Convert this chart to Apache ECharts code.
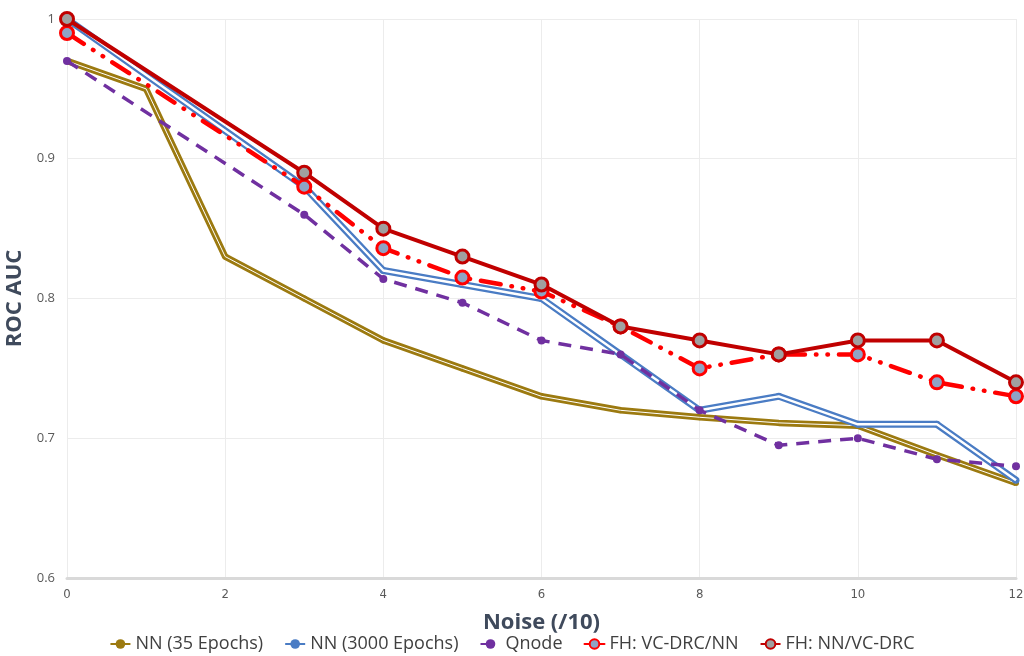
<!DOCTYPE html>
<html>
<head>
<meta charset="utf-8">
<script src="https://cdn.jsdelivr.net/npm/echarts@6/dist/echarts.min.js"></script>
<style>
  html, body { margin: 0; padding: 0; background: #ffffff; }
  #chart { width: 1024px; height: 656px; }
</style>
</head>
<body>
<div id="chart"></div>
<script>
// Noise levels (/10)
const noiseAll = [0, 1, 2, 3, 4, 5, 6, 7, 8, 9, 10, 11, 12];
const noiseSparse = [0, 3, 4, 5, 6, 7, 8, 9, 10, 11, 12];

// ROC AUC per model
const nn35 = [0.97, 0.95, 0.83, 0.80, 0.77, 0.75, 0.73, 0.72, 0.715, 0.711, 0.709, 0.688, 0.668];
const nn3000 = [1.0, 0.88, 0.82, 0.81, 0.80, 0.76, 0.72, 0.73, 0.71, 0.71, 0.67];
const qnode = [0.97, 0.86, 0.814, 0.797, 0.77, 0.76, 0.72, 0.695, 0.70, 0.685, 0.68];
const fhVcNn = [0.99, 0.88, 0.836, 0.815, 0.805, 0.78, 0.75, 0.76, 0.76, 0.74, 0.73];
const fhNnVc = [1.0, 0.89, 0.85, 0.83, 0.81, 0.78, 0.77, 0.76, 0.77, 0.77, 0.74];

const seriesNames = ['NN (35 Epochs)', 'NN (3000 Epochs)', 'Qnode', 'FH: VC-DRC/NN', 'FH: NN/VC-DRC'];
const yTicks = [0.6, 0.7, 0.8, 0.9, 1];

const pair = (xs, ys) => xs.map((x, i) => [x, ys[i]]);

const FONT = 'Open Sans';
const NARROW = 'DejaVu Sans Condensed';
const chart = echarts.init(document.getElementById('chart'));

chart.setOption({
  animation: false,
  backgroundColor: '#ffffff',
  grid: { left: 67, right: 8, top: 19, bottom: 78, outerBoundsMode: 'none', containLabel: false },
  xAxis: {
    type: 'value', min: 0, max: 12, interval: 2,
    name: 'Noise (/10)', nameLocation: 'middle', nameGap: 34,
    nameTextStyle: { fontFamily: FONT, fontWeight: 'bold', fontSize: 22, color: '#3f4a5c' },
    axisLine: { show: true, lineStyle: { color: '#d9d9d9', width: 3 } },
    axisTick: { show: false },
    axisLabel: { fontFamily: NARROW, fontSize: 13, color: '#595959', margin: 10 },
    splitLine: { show: true, lineStyle: { color: '#ececec', width: 1 } }
  },
  yAxis: {
    type: 'value', min: 0.6, max: 1, interval: 0.1,
    name: 'ROC AUC', nameLocation: 'middle', nameGap: 28,
    nameTextStyle: { fontFamily: FONT, fontWeight: 'bold', fontSize: 22, color: '#3f4a5c' },
    axisLine: { show: false },
    axisTick: { show: false },
    axisLabel: {
      fontFamily: FONT, fontSize: 13, color: '#595959', margin: 12,
      formatter: v => {
        const t = yTicks.find(k => Math.abs(k - v) < 1e-6);
        return t === undefined ? '' : String(t);
      }
    },
    splitLine: { show: true, lineStyle: { color: '#ececec', width: 1 } }
  },
  legend: {
    data: seriesNames,
    bottom: -2, left: 'center',
    itemGap: 21, itemWidth: 20, itemHeight: 12,
    textStyle: { fontFamily: FONT, fontSize: 18, color: '#404040' }
  },
  series: [
    {
      name: 'NN (35 Epochs)', type: 'line', data: pair(noiseAll, nn35), z: 2,
      lineStyle: { color: '#9c7a10', width: 6.5 },
      symbol: 'circle', symbolSize: 6,
      itemStyle: { color: '#9c7a10' }
    },
    {
      name: 'nn35-core', type: 'line', data: pair(noiseAll, nn35), z: 3,
      lineStyle: { color: '#ffffff', width: 1 },
      symbol: 'none', silent: true
    },
    {
      name: 'NN (3000 Epochs)', type: 'line', data: pair(noiseSparse, nn3000), z: 4,
      lineStyle: { color: '#4a7cc4', width: 7 },
      symbol: 'circle', symbolSize: 7,
      itemStyle: { color: '#4a7cc4' }
    },
    {
      name: 'nn3000-core', type: 'line', data: pair(noiseSparse, nn3000), z: 5,
      lineStyle: { color: '#ffffff', width: 2.4 },
      symbol: 'none', silent: true
    },
    {
      name: 'Qnode', type: 'line', data: pair(noiseSparse, qnode), z: 6,
      lineStyle: { color: '#7030a0', width: 3.5, type: [13, 9] },
      symbol: 'circle', symbolSize: 8,
      itemStyle: { color: '#7030a0' }
    },
    {
      name: 'FH: VC-DRC/NN', type: 'line', data: pair(noiseSparse, fhVcNn), z: 7,
      lineStyle: { color: '#ff0000', width: 4.5, type: [20, 11, 0.5, 11, 0.5, 11], cap: 'round' },
      symbol: 'circle', symbolSize: 13,
      itemStyle: { color: '#8fa3c4', borderColor: '#ff0000', borderWidth: 3 }
    },
    {
      name: 'FH: NN/VC-DRC', type: 'line', data: pair(noiseSparse, fhNnVc), z: 8,
      lineStyle: { color: '#c00000', width: 4 },
      symbol: 'circle', symbolSize: 13,
      itemStyle: { color: '#a0a0a0', borderColor: '#c00000', borderWidth: 3 }
    }
  ]
});
</script>
</body>
</html>
